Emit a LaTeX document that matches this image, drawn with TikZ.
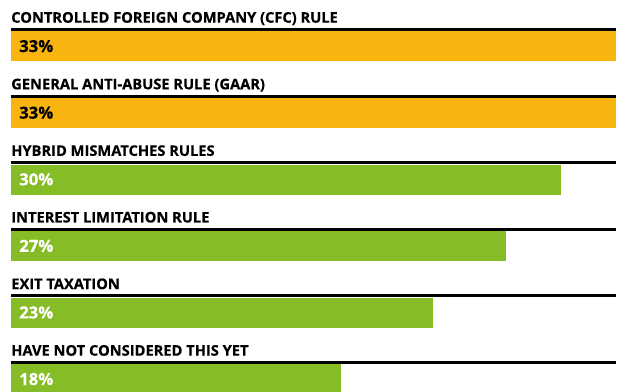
\documentclass[tikz,border=0pt]{standalone}
\usepackage{fontspec}
\setmainfont{Open Sans}[BoldFeatures={FakeBold=0.4}]
\definecolor{barorange}{HTML}{F8B50F}
\definecolor{bargreen}{HTML}{86BC25}
\begin{document}
\begin{tikzpicture}[x=0.75pt,y=-0.75pt,
  title/.style={anchor=base west, inner sep=0, font=\fontsize{11.0}{12}\selectfont\bfseries},
  rulebar/.style={fill=black, draw=none},
  bar/.style={anchor=north west, inner sep=0, minimum height=22.5pt, draw=none},
  pct/.style={anchor=west, inner sep=0, font=\fontsize{12.5}{14}\selectfont\bfseries}]
\useasboundingbox (0,0) rectangle (629,392);
\foreach \i/\t/\p/\c/\tc in {
  0/{CONTROLLED FOREIGN COMPANY (CFC) RULE}/33/barorange/black,
  1/{GENERAL ANTI-ABUSE RULE (GAAR)}/33/barorange/black,
  2/{HYBRID MISMATCHES RULES}/30/bargreen/white,
  3/{INTEREST LIMITATION RULE}/27/bargreen/white,
  4/{EXIT TAXATION}/23/bargreen/white,
  5/{HAVE NOT CONSIDERED THIS YET}/18/bargreen/white} {
  \pgfmathsetmacro\L{28.1+66.6*\i}
  \node[title] (t\i) at (11,\L-5.4) {\t};
  \fill[rulebar] (11,\L) rectangle (616,\L+3);
  \node[bar, fill=\c, minimum width={\p*13.75pt}] (b\i) at (11,\L+3) {};
  \node[pct, text=\tc] (p\i) at (19,\L+18) {\p\%};
}
\end{tikzpicture}
\end{document}
